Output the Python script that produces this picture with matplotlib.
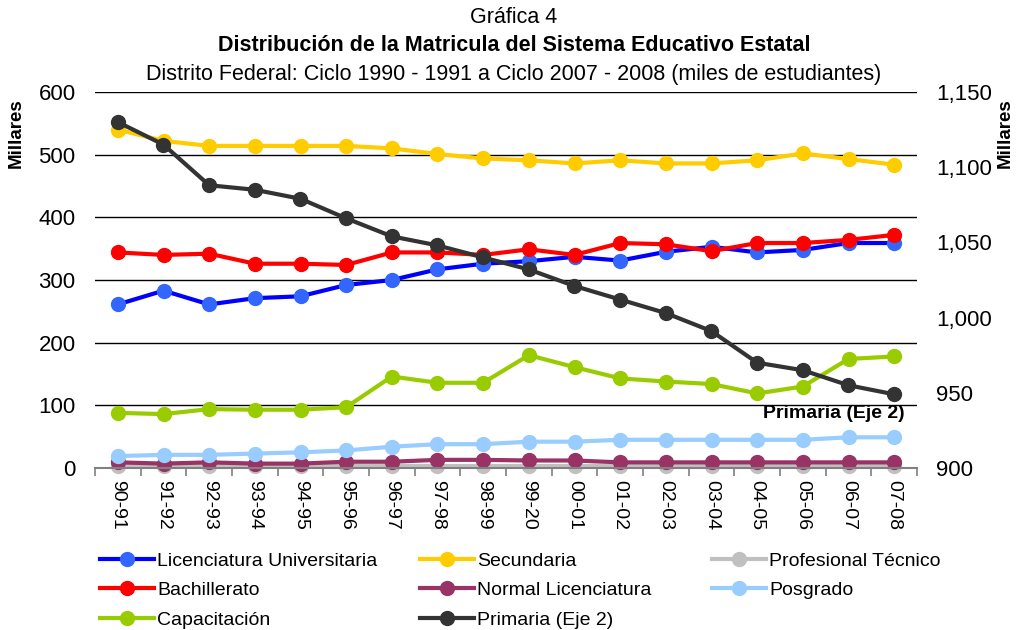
import matplotlib.pyplot as plt
from matplotlib.ticker import FuncFormatter, FixedLocator

plt.rcParams['font.family'] = ['Liberation Sans', 'DejaVu Sans']

ciclos = ['90-91', '91-92', '92-93', '93-94', '94-95', '95-96', '96-97', '97-98', '98-99',
          '99-20', '00-01', '01-02', '02-03', '03-04', '04-05', '05-06', '06-07', '07-08']

licenciatura = [261, 283, 261, 271, 274, 292, 300, 317, 326, 330, 337, 331, 345, 353, 344, 348, 359, 359]
bachillerato = [344, 340, 342, 326, 326, 324, 344, 344, 340, 349, 340, 359, 357, 346, 359, 359, 364, 372]
capacitacion = [88, 86, 94, 93, 93, 97, 146, 136, 136, 180, 161, 143, 138, 134, 119, 130, 174, 178]
secundaria = [540, 522, 514, 514, 514, 514, 510, 501, 494, 491, 486, 491, 486, 486, 491, 502, 493, 484]
normal = [9, 7, 9, 7, 7, 10, 10, 13, 13, 12, 12, 9, 9, 9, 9, 9, 9, 9]
prof_tecnico = [3, 3, 3, 3, 3, 3, 3, 3, 3, 3, 3, 3, 3, 3, 3, 3, 3, 3]
posgrado = [19, 21, 21, 23, 25, 28, 34, 38, 38, 42, 42, 45, 45, 45, 45, 45, 49, 49]
# eje secundario
primaria = [1130, 1115, 1088, 1085, 1079, 1066, 1054, 1048, 1040, 1032, 1021, 1012, 1003, 991, 970, 965, 955, 949]

fig = plt.figure(figsize=(10.18, 6.3), dpi=100)
ax = fig.add_axes([95 / 1018, 1 - 468 / 630, 822 / 1018, 376 / 630])
ax2 = ax.twinx()

x = list(range(len(ciclos)))
lw = 3
ms = 10

def serie(a, y, line_c, mark_c, label):
    return a.plot(x, y, '-o', color=line_c, lw=lw, marker='o', ms=ms,
                  mfc=mark_c, mec=mark_c, label=label, clip_on=False)[0]

h_prof = serie(ax, prof_tecnico, '#C0C0C0', '#C0C0C0', 'Profesional Técnico')
h_lic = serie(ax, licenciatura, '#0000FF', '#3366FF', 'Licenciatura Universitaria')
h_bach = serie(ax, bachillerato, '#FF0000', '#FF0000', 'Bachillerato')
h_cap = serie(ax, capacitacion, '#99CC00', '#99CC00', 'Capacitación')
h_sec = serie(ax, secundaria, '#FFCC00', '#FFCC00', 'Secundaria')
h_norm = serie(ax, normal, '#993366', '#993366', 'Normal Licenciatura')
h_pos = serie(ax, posgrado, '#99CCFF', '#99CCFF', 'Posgrado')
h_prim = serie(ax2, primaria, '#333333', '#333333', 'Primaria (Eje 2)')

ax.set_xlim(-0.5, len(ciclos) - 0.5)
ax.set_ylim(0, 600)
ax.set_yticks(range(0, 601, 100))
ax2.set_ylim(900, 1150)
ax2.set_yticks(range(900, 1151, 50))
ax2.yaxis.set_major_formatter(FuncFormatter(lambda v, p: f'{int(v):,}'))

for y in range(100, 601, 100):
    ax.axhline(y, color='black', lw=1, zorder=0)

for a in (ax, ax2):
    for s in ['top', 'left', 'right', 'bottom']:
        a.spines[s].set_visible(False)
ax.spines['bottom'].set_visible(True)
ax.spines['bottom'].set_color('#808080')
ax.spines['bottom'].set_linewidth(1.5)

ax.set_xticks(x)
ax.set_xticklabels(ciclos, rotation=-90, fontsize=14)
ax.xaxis.set_minor_locator(FixedLocator([i - 0.5 for i in range(len(ciclos) + 1)]))
ax.tick_params(axis='x', which='major', length=0, pad=9)
ax.tick_params(axis='x', which='minor', length=6, color='#808080', width=1.2)
ax.tick_params(axis='y', length=0, labelsize=16, pad=14)
ax2.tick_params(axis='y', length=0, labelsize=16, pad=14)

ax.set_ylabel('Millares', fontsize=13.5, fontweight='bold')
ax.yaxis.set_label_coords(-0.085, 0.89)
ax2.set_ylabel('Millares', fontsize=13.5, fontweight='bold')
ax2.yaxis.set_label_coords(1.097, 0.89)

ax2.text(0.985, 0.145, 'Primaria (Eje 2)', transform=ax.transAxes, ha='right',
         va='center', fontsize=14, fontweight='bold')

fig.text(0.505, 0.972, 'Gráfica 4', ha='center', va='center', fontsize=15.5)
fig.text(0.505, 0.928, 'Distribución de la Matricula del Sistema Educativo Estatal',
         ha='center', va='center', fontsize=15.5, fontweight='bold')
fig.text(0.505, 0.881, 'Distrito Federal: Ciclo 1990 - 1991 a Ciclo 2007 - 2008 (miles de estudiantes)',
         ha='center', va='center', fontsize=15.5)

columnas = [([h_lic, h_bach, h_cap], 100), ([h_sec, h_norm, h_prim], 420), ([h_prof, h_pos], 712)]
for hs, px in columnas:
    leg = fig.legend(handles=hs, loc='upper left', bbox_to_anchor=(px / 1018, 1 - 552 / 630),
                     frameon=False, fontsize=14, handlelength=2.8, handletextpad=0.15,
                     labelspacing=0.62, borderaxespad=0, borderpad=0)

fig.savefig('out.png', dpi=100)
